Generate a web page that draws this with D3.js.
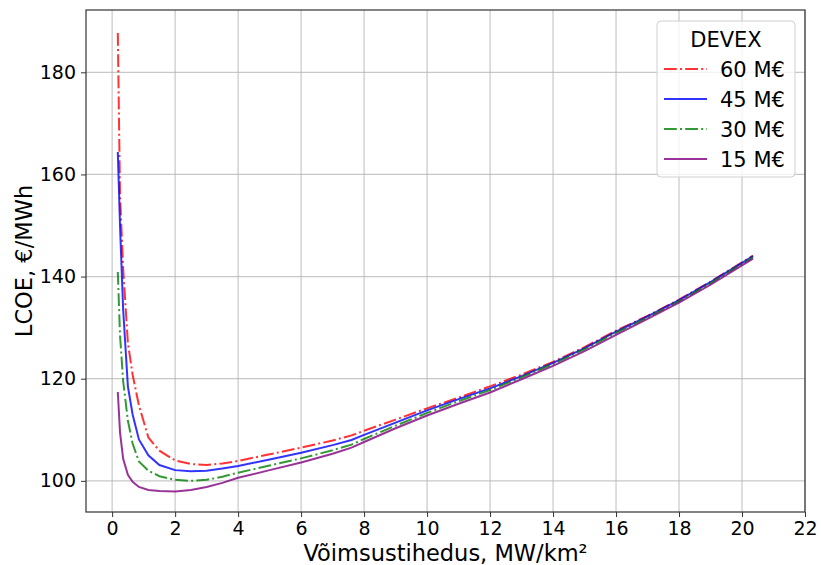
<!DOCTYPE html>
<html>
<head>
<meta charset="utf-8" />
<title>LCOE vs Võimsustihedus</title>
<script src="https://d3js.org/d3.v7.min.js"></script>
<style>
  body { margin: 0; background: #fff; }
  svg text { font-family: "DejaVu Sans", sans-serif; fill: #000; }
</style>
</head>
<body>
<svg width="821" height="565" id="svg1"></svg>
<script>
// võimsustihedus, MW/km²
var density = [0.18, 0.25, 0.35, 0.5, 0.65, 0.85, 1.15, 1.5, 2, 2.5, 3, 3.5, 4, 5, 6, 7, 7.6, 8,
               9, 10, 11, 12, 13, 14, 15, 16, 17, 18, 19, 20, 20.35];
// LCOE, €/MWh per DEVEX
var lcoe60 = [187.7, 156, 141.5, 127, 120.8, 114.8, 108.5, 105.9, 104.0, 103.3, 103.1, 103.4, 103.9, 105.2, 106.5, 107.9, 108.9, 109.8,
              112.0, 114.2, 116.3, 118.5, 120.8, 123.3, 126.2, 129.4, 132.3, 135.5, 139.0, 142.8, 144.1];
var lcoe45 = [164.4, 150, 133.5, 118.5, 113, 108.1, 105, 103.1, 102.1, 101.9, 102.0, 102.4, 102.9, 104.2, 105.5, 107.0, 108.0, 109.0,
              111.4, 113.8, 116.0, 118.1, 120.5, 123.1, 126.0, 129.2, 132.2, 135.4, 138.9, 142.7, 144.0];
var lcoe30 = [140.9, 128.5, 119.5, 111.8, 107.3, 103.8, 102.0, 100.9, 100.2, 100.0, 100.2, 100.8, 101.6, 103.0, 104.4, 106.0, 107.1, 108.2,
              110.8, 113.3, 115.6, 117.8, 120.3, 122.9, 125.8, 129.0, 132.0, 135.2, 138.7, 142.5, 143.8];
var lcoe15 = [117.4, 109.5, 104.3, 101.2, 99.8, 98.8, 98.2, 98.0, 97.9, 98.2, 98.8, 99.6, 100.6, 102.1, 103.6, 105.3, 106.5, 107.6,
              110.3, 112.8, 115.1, 117.3, 119.9, 122.5, 125.4, 128.6, 131.7, 134.9, 138.4, 142.2, 143.5];
var seriesNames = ["60 M€", "45 M€", "30 M€", "15 M€"];
var xTicks = [0, 2, 4, 6, 8, 10, 12, 14, 16, 18, 20, 22];
var yTicks = [100, 120, 140, 160, 180];

var series = [
  { name: seriesNames[0], values: lcoe60, color: "#ff0000", dash: "12.8,3.2,2,3.2" },
  { name: seriesNames[1], values: lcoe45, color: "#0000ff", dash: null },
  { name: seriesNames[2], values: lcoe30, color: "#008000", dash: "12.8,3.2,2,3.2" },
  { name: seriesNames[3], values: lcoe15, color: "#800080", dash: null }
];

var svg = d3.select("#svg1");
var L = 86, R = 805, T = 10, B = 512;

var x = d3.scaleLinear().domain([-0.83, 22]).range([L, R]);
var y = d3.scaleLinear().domain([93.9, 192.2]).range([B, T]);

// ruudustik
var grid = svg.append("g");
grid.selectAll("line.gx").data(xTicks).enter().append("line")
  .attr("x1", function(d) { return x(d); }).attr("x2", function(d) { return x(d); })
  .attr("y1", T).attr("y2", B)
  .attr("stroke", "#b0b0b0").attr("stroke-opacity", 0.7).attr("stroke-width", 1.2);
grid.selectAll("line.gy").data(yTicks).enter().append("line")
  .attr("x1", L).attr("x2", R)
  .attr("y1", function(d) { return y(d); }).attr("y2", function(d) { return y(d); })
  .attr("stroke", "#b0b0b0").attr("stroke-opacity", 0.7).attr("stroke-width", 1.2);

// jooned
var line = d3.line()
  .x(function(d, i) { return x(density[i]); })
  .y(function(d) { return y(d); });

svg.append("g").selectAll("path")
  .data(series)
  .enter()
  .append("path")
  .attr("d", function(s) { return line(s.values); })
  .attr("fill", "none")
  .attr("stroke", function(s) { return s.color; })
  .attr("stroke-opacity", 0.8)
  .attr("stroke-width", 2)
  .attr("stroke-dasharray", function(s) { return s.dash; });

// teljed
var xAxis = svg.append("g").attr("transform", "translate(0," + B + ")")
  .call(d3.axisBottom(x).tickValues(xTicks).tickSize(5).tickPadding(5).tickFormat(d3.format("d")));
var yAxis = svg.append("g").attr("transform", "translate(" + L + ",0)")
  .call(d3.axisLeft(y).tickValues(yTicks).tickSize(5).tickPadding(5).tickFormat(d3.format("d")));
[xAxis, yAxis].forEach(function(a) {
  a.select(".domain").remove();
  a.selectAll("text").style("font-size", "19px").style("font-family", "DejaVu Sans");
  a.selectAll("line").attr("stroke", "#333");
});

svg.append("rect")
  .attr("x", L).attr("y", T).attr("width", R - L).attr("height", B - T)
  .attr("fill", "none").attr("stroke", "#333").attr("stroke-width", 1.2);

svg.append("text")
  .attr("x", (L + R) / 2).attr("y", 561)
  .attr("text-anchor", "middle").style("font-size", "22.5px")
  .text("Võimsustihedus, MW/km²");

svg.append("text")
  .attr("transform", "translate(32," + ((T + B) / 2) + ") rotate(-90)")
  .attr("text-anchor", "middle").style("font-size", "22.5px")
  .text("LCOE, €/MWh");

// legend
var lg = svg.append("g");
lg.append("rect")
  .attr("x", 657).attr("y", 21).attr("width", 138).attr("height", 156)
  .attr("rx", 4).attr("fill", "#fff").attr("fill-opacity", 0.8)
  .attr("stroke", "#d0d0d0");
lg.append("text").attr("x", 726).attr("y", 47)
  .attr("text-anchor", "middle").style("font-size", "21px").text("DEVEX");
var items = lg.selectAll("g.item").data(series).enter().append("g")
  .attr("transform", function(d, i) { return "translate(0," + (69 + i * 30) + ")"; });
items.append("line")
  .attr("x1", 664).attr("x2", 707).attr("y1", 0).attr("y2", 0)
  .attr("stroke", function(s) { return s.color; })
  .attr("stroke-opacity", 0.8)
  .attr("stroke-width", 2)
  .attr("stroke-dasharray", function(s) { return s.dash; });
items.append("text").attr("x", 720).attr("y", 7.5)
  .style("font-size", "21px").text(function(s) { return s.name; });
</script>
</body>
</html>
